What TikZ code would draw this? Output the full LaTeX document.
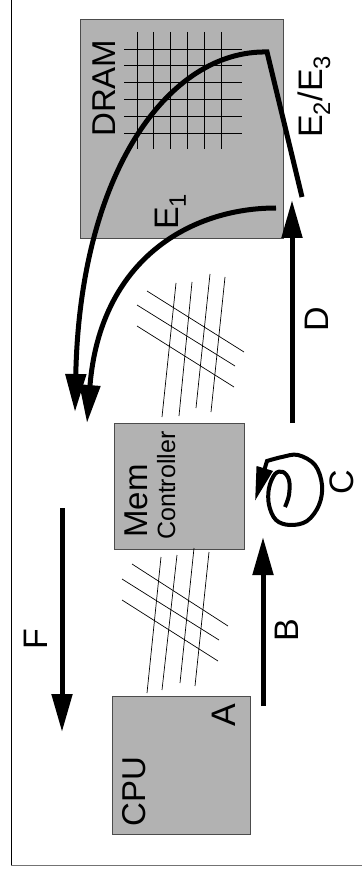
\documentclass[tikz,border=0pt]{standalone}
\usepackage{fontspec}
\setmainfont{Liberation Sans}
\usetikzlibrary{arrows.meta,positioning}

\tikzset{
    chip/.style={draw=black!70, fill=black!30, line width=0.8pt, inner sep=0pt},
    wire/.style={line width=0.7pt},
    flow/.style={line width=5pt, -{Triangle[length=38pt,width=20pt]}},
    tag/.style={rotate=90, anchor=base west, inner sep=0pt, font=\fontsize{34}{34}\selectfont},
    chipname/.style={tag, font=\fontsize{33}{33}\selectfont},
}

\begin{document}
\begin{tikzpicture}[x=1pt, y=-1pt]
    \useasboundingbox (0,0) rectangle (362,874);

    % Frame
    \draw[line width=1.2pt] (11.7,0) -- (11.7,865.5);
    \draw[line width=1.5pt, black!55] (11,865.5) -- (362,865.5);

    % Chips
    \node[chip, minimum width=203pt, minimum height=219pt] (dram) at (181.5,128.5) {};
    \node[chip, minimum width=130pt, minimum height=126pt] (ctrl) at (179,486) {};
    \node[chip, minimum width=138pt, minimum height=138pt] (cpu) at (181,765) {};

    % Cell array
    \foreach \i in {0,...,5} {
        \draw[wire] (137+16.8*\i,32) -- (137+16.8*\i,149);
        \draw[wire] (124,49+16.8*\i) -- (242,49+16.8*\i);
    }

    % Buses
    \foreach \xa/\ya/\xb/\yb in {176/283/162/417, 192/282/179/416, 210/274/196/408, 225/277/211/412,
                                 147/291/244/352, 137/305/235/366, 137/326/234/387,
                                 161/557/147/693, 177/555/162/690, 194/548/180/683, 209/552/195/686,
                                 132/564/228/626, 122/579/219/640, 122/600/218/661}
        \draw[wire] (\xa,\ya) -- (\xb,\yb);

    % Names
    \node[chipname] (dramname) at (115,137) {DRAM};
    \node[chipname] (memname) at (147,538) {Mem};
    \node[tag, font=\fontsize{25}{25}\selectfont] (ctrlname) at (175,540) {Controller};
    \node[chipname] (cpuname) at (145,827) {CPU};

    % Steps
    \coordinate (b0) at (263,706);
    \coordinate (b1) at (263,537);
    \coordinate (c0) at (285,507);
    \coordinate (c1) at (255,501);
    \coordinate (d0) at (292,423);
    \coordinate (d1) at (292,200);
    \coordinate (e0) at (302,197);
    \coordinate (epeak) at (267,52);
    \coordinate (e1) at (75,412);
    \coordinate (f0) at (276,208);
    \coordinate (f1) at (87,423);
    \coordinate (g0) at (62,508);
    \coordinate (g1) at (62,732);

    \draw[flow] (b0) -- (b1);
    \draw[flow] (d0) -- (d1);
    \draw[flow] (e0) -- (epeak) .. controls (170,50) and (80,170) .. (e1);
    \draw[flow] (f0) .. controls (190,208) and (100,260) .. (f1);
    \draw[flow] (g0) -- (g1);
    \draw[line width=4pt, -{Triangle[length=34pt,width=16pt]}]
        plot[smooth, tension=0.6] coordinates {(c0) (289,495) (289,480) (283,472) (275,474) (269,488)
            (269,505) (276,520) (290,525) (307,521) (319,505) (322,485) (315,465) (298,455)
            (282,457) (267,461)} -- (c1);

    \node[tag] (a) at (235,727) {A};
    \node[tag] (b) at (298,642) {B};
    \node[tag] (c) at (353,495) {C};
    \node[tag] (d) at (328,332) {D};
    \node[tag] (e) at (178,230) {E\textsubscript{1}};
    \node[tag] (e23) at (322,138) {E\textsubscript{2}/E\textsubscript{3}};
    \node[tag] (f) at (47,650) {F};
\end{tikzpicture}
\end{document}
